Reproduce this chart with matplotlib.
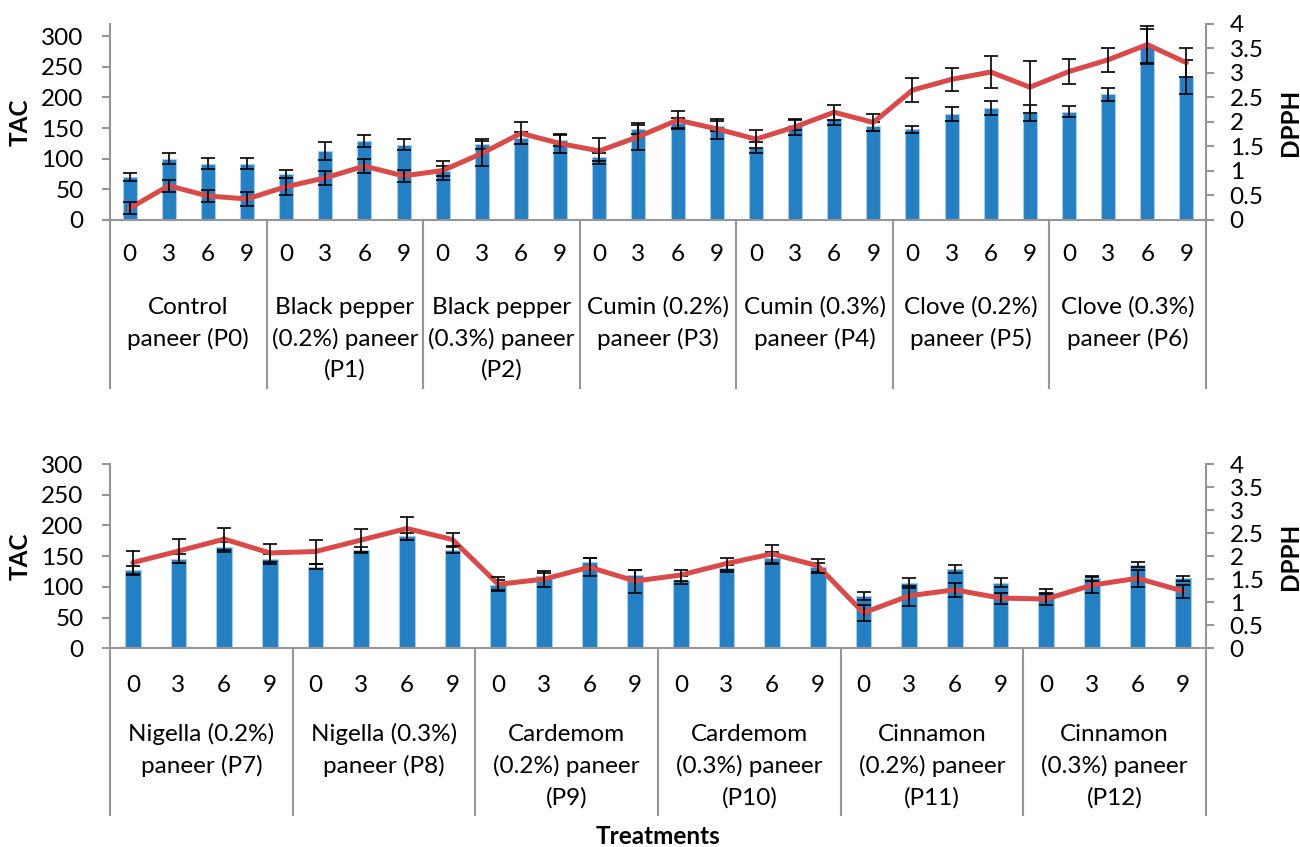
import matplotlib
matplotlib.use("Agg")
import matplotlib.pyplot as plt
from matplotlib.transforms import blended_transform_factory
import numpy as np

plt.rcParams['font.family'] = ['Lato', 'DejaVu Sans']

# ---- data -------------------------------------------------------------
days = ["0", "3", "6", "9"]

top_groups = ["Control\npaneer (P0)", "Black pepper\n(0.2%) paneer\n(P1)",
              "Black pepper\n(0.3%) paneer\n(P2)", "Cumin (0.2%)\npaneer (P3)",
              "Cumin (0.3%)\npaneer (P4)", "Clove (0.2%)\npaneer (P5)",
              "Clove (0.3%)\npaneer (P6)"]
bottom_groups = ["Nigella (0.2%)\npaneer (P7)", "Nigella (0.3%)\npaneer (P8)",
                 "Cardemom\n(0.2%) paneer\n(P9)", "Cardemom\n(0.3%) paneer\n(P10)",
                 "Cinnamon\n(0.2%) paneer\n(P11)", "Cinnamon\n(0.3%) paneer\n(P12)"]

tac_top = [70, 100, 92, 92, 75, 113, 129, 123, 80, 124, 134, 130,
           103, 148, 158, 153, 118, 155, 165, 153, 148, 173, 183, 174,
           177, 205, 283, 233]
tac_top_err = [6, 9, 9, 9, 7, 15, 10, 9, 8, 8, 10, 9,
               7, 7, 8, 8, 9, 8, 10, 7, 6, 11, 11, 13,
               9, 11, 29, 28]
dpph_top = [0.24, 0.70, 0.49, 0.43, 0.68, 0.86, 1.10, 0.90, 1.01, 1.36, 1.77, 1.56,
            1.41, 1.70, 2.04, 1.86, 1.65, 1.90, 2.20, 1.99, 2.65, 2.87, 3.02, 2.71,
            3.03, 3.27, 3.58, 3.21]
dpph_top_err = [0.12, 0.12, 0.12, 0.14, 0.17, 0.15, 0.14, 0.13, 0.20, 0.25, 0.22, 0.20,
                0.27, 0.27, 0.19, 0.20, 0.18, 0.17, 0.15, 0.18, 0.24, 0.23, 0.32, 0.53,
                0.26, 0.25, 0.37, 0.29]

tac_bottom = [127, 146, 165, 145, 133, 160, 182, 160, 103, 117, 140, 119,
              111, 130, 147, 132, 85, 106, 129, 107, 92, 114, 136, 114]
tac_bottom_err = [7, 7, 8, 8, 4, 5, 6, 5, 8, 5, 7, 8,
                  7, 6, 9, 7, 7, 8, 7, 7, 4, 4, 4, 4]
dpph_bottom = [1.86, 2.11, 2.37, 2.07, 2.10, 2.35, 2.60, 2.36, 1.39, 1.50, 1.76, 1.46,
               1.59, 1.84, 2.05, 1.79, 0.77, 1.14, 1.27, 1.09, 1.07, 1.37, 1.52, 1.24]
dpph_bottom_err = [0.25, 0.26, 0.24, 0.20, 0.26, 0.25, 0.26, 0.15, 0.15, 0.17, 0.20, 0.25,
                   0.12, 0.13, 0.19, 0.15, 0.17, 0.22, 0.15, 0.12, 0.14, 0.17, 0.18, 0.14]

# ---- style ------------------------------------------------------------
W, H = 1300, 847
BAR_BLUE = "#2580C3"
BAR_EDGE = "#A9CBEA"
LINE_RED = "#D94A48"
AXIS_GREY = "#969696"
FS = 17.5

fig = plt.figure(figsize=(W / 100, H / 100), dpi=100)


def panel(top_px, bottom_px, tac, tac_err, dpph, dpph_err, groups, tac_max,
          tick_y, group_y, line_gap, sep_bottom, bar_w):
    left_px, right_px = 110, 1206
    ax = fig.add_axes([left_px / W, 1 - bottom_px / H,
                       (right_px - left_px) / W, (bottom_px - top_px) / H])
    n = len(tac)
    x = np.arange(n)

    ax.bar(x, tac, width=bar_w, color=BAR_BLUE, edgecolor=BAR_EDGE,
           linewidth=0.8, zorder=2)
    ax.errorbar(x, tac, yerr=tac_err, fmt='none', ecolor='black',
                elinewidth=1.2, capsize=5, capthick=1.2, zorder=3)
    ax.set_xlim(-0.5, n - 0.5)
    ax.set_ylim(0, tac_max)
    ax.set_yticks(np.arange(0, 301, 50))
    ax.set_xticks([])

    ax2 = ax.twinx()
    ax2.plot(x, dpph, color=LINE_RED, linewidth=3.6, solid_joinstyle='round',
             solid_capstyle='round', zorder=4)
    ax2.errorbar(x, dpph, yerr=dpph_err, fmt='none', ecolor='black',
                 elinewidth=1.2, capsize=5, capthick=1.2, zorder=5)
    ax2.set_ylim(0, 4)
    ax2.set_yticks(np.arange(0, 4.01, 0.5))
    ax2.set_yticklabels(["0", "0.5", "1", "1.5", "2", "2.5", "3", "3.5", "4"])
    ax2.set_xlim(-0.5, n - 0.5)

    for a in (ax, ax2):
        a.spines['top'].set_visible(False)
        for s in ('left', 'right', 'bottom'):
            a.spines[s].set_color(AXIS_GREY)
            a.spines[s].set_linewidth(1.5)
        a.patch.set_visible(False)
    ax.spines['right'].set_visible(False)
    ax2.spines['left'].set_visible(False)
    ax2.spines['bottom'].set_visible(False)

    ax.tick_params(axis='y', length=6, width=1.5, color=AXIS_GREY,
                   labelsize=FS, pad=13)
    ax2.tick_params(axis='y', length=6, width=1.5, color=AXIS_GREY,
                    labelsize=FS, pad=11)

    ax.set_ylabel("TAC", fontsize=FS, fontweight='bold', labelpad=7)
    ax2.set_ylabel("DPPH", fontsize=FS, fontweight='bold', labelpad=11)

    # two-level category axis: storage day labels and treatment groups
    xfig = blended_transform_factory(ax.transData, fig.transFigure)
    for i in range(n):
        ax.text(i, 1 - tick_y / H, days[i % 4], transform=xfig,
                ha='center', va='center', fontsize=FS)
    for g, label in enumerate(groups):
        cx = g * 4 + 1.5
        for k, line in enumerate(label.split("\n")):
            ax.text(cx, 1 - (group_y + k * line_gap) / H, line, transform=xfig,
                    ha='center', va='center', fontsize=FS)
    for b in range(len(groups) + 1):
        xs = b * 4 - 0.5
        ax.plot([xs, xs], [1 - bottom_px / H, 1 - sep_bottom / H],
                transform=xfig, color=AXIS_GREY, linewidth=1.5,
                clip_on=False, zorder=1)
    return ax


panel(24, 220, tac_top, tac_top_err, dpph_top, dpph_top_err, top_groups,
      320, 254, 307, 31.5, 388, 0.36)
panel(464, 648.3, tac_bottom, tac_bottom_err, dpph_bottom, dpph_bottom_err,
      bottom_groups, 300, 686, 734, 32, 815, 0.34)

fig.text(658 / W, 1 - 836 / H, "Treatments", ha='center', va='center',
         fontsize=FS, fontweight='bold')

fig.savefig("out.png", dpi=100)
